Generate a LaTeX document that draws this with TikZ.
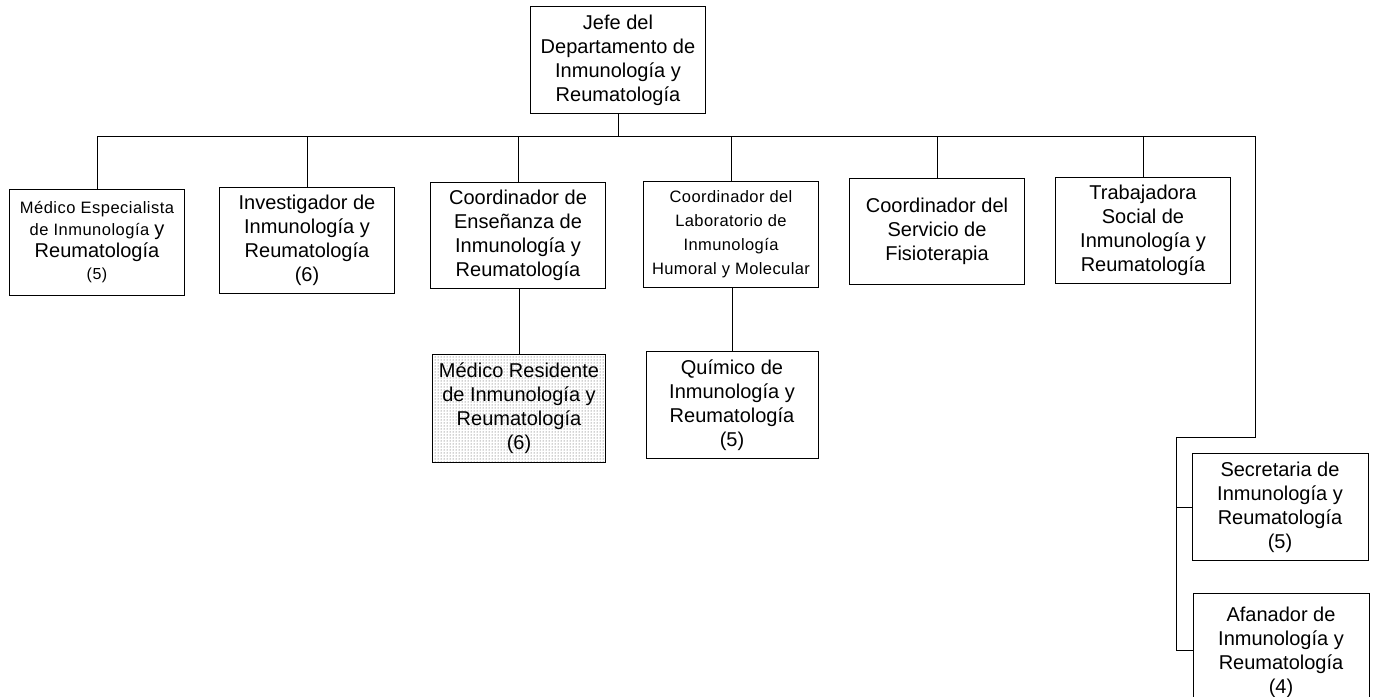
\documentclass[tikz,border=0pt]{standalone}
\usepackage{fontspec}
\setmainfont{Liberation Sans}
\usetikzlibrary{patterns}
\newcommand{\bigtxt}{\fontsize{20}{24}\selectfont}
\newcommand{\smalltxt}{\fontsize{16.5}{24}\selectfont\addfontfeature{LetterSpace=2.5}}
\begin{document}
\begin{tikzpicture}[x=1pt,y=-1pt,
  box/.style={draw=black,line width=0.9pt,minimum width=175pt,minimum height=106pt,inner sep=0pt,align=center,font=\bigtxt},
  conn/.style={draw=black,line width=0.9pt}]
\useasboundingbox (0,0) rectangle (1373,696);
\fill[white] (0,0) rectangle (1373,696);

\node[box,minimum height=107pt] (jefe) at (618,60) {Jefe del\\Departamento de\\Inmunología y\\Reumatología};

\node[box,font={\fontsize{16.5}{22}\selectfont\addfontfeature{LetterSpace=3}}] (b1) at (97,242) {Médico Especialista\\de Inmunología {\fontsize{20}{22}\selectfont\addfontfeature{LetterSpace=0}y}\\{\fontsize{20}{22}\selectfont\addfontfeature{LetterSpace=0}Reumatología}\\{\fontsize{16}{22}\selectfont(5)}};
\node[box] (b2) at (307,240) {Investigador de\\Inmunología y\\Reumatología\\(6)};
\node[box] (b3) at (518,235) {Coordinador de\\Enseñanza de\\Inmunología y\\Reumatología};
\node[box,font=\smalltxt] (b4) at (731,234) {Coordinador del\\Laboratorio de\\Inmunología\\Humoral y Molecular};
\node[box] (b5) at (937,231) {Coordinador del\\Servicio de\\Fisioterapia};
\node[box] (b6) at (1143,230) {Trabajadora\\Social de\\Inmunología y\\Reumatología};

\node[box,minimum width=173pt,minimum height=108pt,fill=gray!15,pattern=dots,pattern color=black!75] (res) at (519,408) {};
\node[box,draw=none,minimum width=173pt,minimum height=108pt] (restext) at (res.center) {Médico Residente\\de Inmunología y\\Reumatología\\(6)};
\node[box,minimum width=172pt,minimum height=107pt] (chem) at (732,405) {Químico de\\Inmunología y\\Reumatología\\(5)};

\node[box,minimum width=176pt,minimum height=107pt] (secr) at (1280,507) {Secretaria de\\Inmunología y\\Reumatología\\(5)};
\node[box,minimum width=176pt,minimum height=114pt,text depth=0pt] (afan) at (1281,650) {Afanador de\\Inmunología y\\Reumatología\\(4)};

\coordinate (busR) at (1255,136);
\coordinate (bend) at (1255,437);
\coordinate (spine) at (1176,437);

\draw[conn] (b1.north) |- (busR) -- (bend) -- (spine) |- (afan.west);
\draw[conn] (spine |- secr.west) -- (secr.west);
\draw[conn] (jefe.south) -- (jefe.south |- busR);
\foreach \n in {b2,b3,b4,b5,b6}{\draw[conn] (\n.north) -- (\n.north |- busR);}
\draw[conn] (res.north) -- (res.north |- b3.south);
\draw[conn] (chem.north) -- (chem.north |- b4.south);
\end{tikzpicture}
\end{document}
